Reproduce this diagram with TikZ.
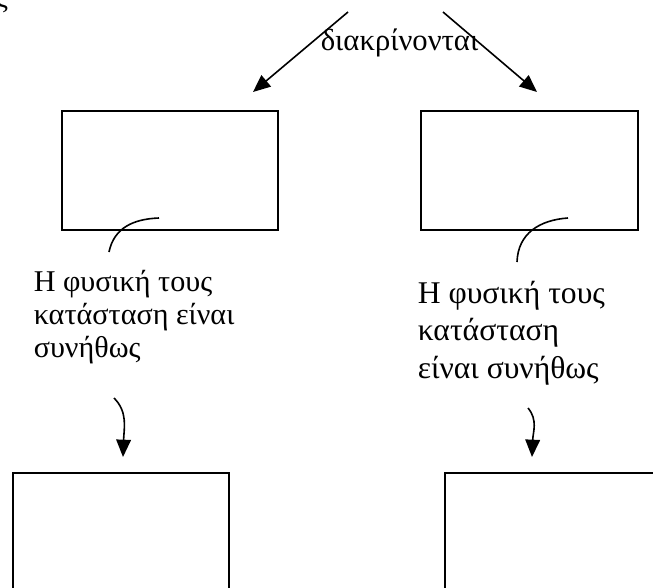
\documentclass[tikz,border=0pt]{standalone}
\usepackage{fontspec}
\setmainfont{Liberation Serif}
\usetikzlibrary{arrows.meta}
\begin{document}
\begin{tikzpicture}[x=0.75pt,y=-0.75pt,line width=1.2pt,
  box/.style={draw,line width=1.3pt,anchor=north west,inner sep=0pt},
  tipline/.style={-{Triangle[length=13pt,width=11pt]}},
  ltxt/.style={anchor=base west,inner sep=0pt,font=\fontsize{22.6}{26}\selectfont},
  ttxt/.style={anchor=base west,inner sep=0pt,font=\fontsize{23}{27}\selectfont},
  rtxt/.style={anchor=base west,inner sep=0pt,font=\fontsize{23.7}{28}\selectfont}]
\useasboundingbox (0,0) rectangle (653,588);
% partial glyph at top-left corner
\node[ltxt] (corner) at (-5,8) {ς};
% top label and arrows
\node[ttxt] (top) at (320,51) {διακρίνονται};
\coordinate (a1s) at (348,12);
\coordinate (a1e) at (253,92);
\coordinate (a2s) at (443,12);
\coordinate (a2e) at (537,92);
\draw[tipline] (a1s) -- (a1e);
\draw[tipline] (a2s) -- (a2e);
% upper boxes
\node[box,minimum width=162pt,minimum height=89.25pt] (b1) at (61,110) {};
\node[box,minimum width=162.75pt,minimum height=89.25pt] (b2) at (420,110) {};
% curved connectors
\coordinate (c1s) at (159,218);
\coordinate (c1e) at (109,252);
\coordinate (c2s) at (568,218);
\coordinate (c2e) at (517,262);
\draw (c1s) .. controls (133,219) and (114,228) .. (c1e);
\draw (c2s) .. controls (540,220) and (518,233) .. (c2e);
% texts
\node[ltxt] (l1) at (33,291) {Η φυσική τους};
\node[ltxt] (l2) at (33,324) {κατάσταση είναι};
\node[ltxt] (l3) at (33,357) {συνήθως};
\node[rtxt] (r1) at (417,303) {Η φυσική τους};
\node[rtxt] (r2) at (417,340) {κατάσταση};
\node[rtxt] (r3) at (417,378) {είναι συνήθως};
% down arrows
\coordinate (d1s) at (114,398);
\coordinate (d1e) at (123,457);
\coordinate (d2s) at (528,408);
\coordinate (d2e) at (532,457);
\draw[tipline] (d1s) .. controls (128,412) and (124,428) .. (d1e);
\draw[tipline] (d2s) .. controls (538,420) and (533,432) .. (d2e);
% lower boxes (extend beyond the page)
\node[box,minimum width=162pt,minimum height=120pt] (b3) at (12,472) {};
\node[box,minimum width=180pt,minimum height=120pt] (b4) at (444,472) {};
\end{tikzpicture}
\end{document}
